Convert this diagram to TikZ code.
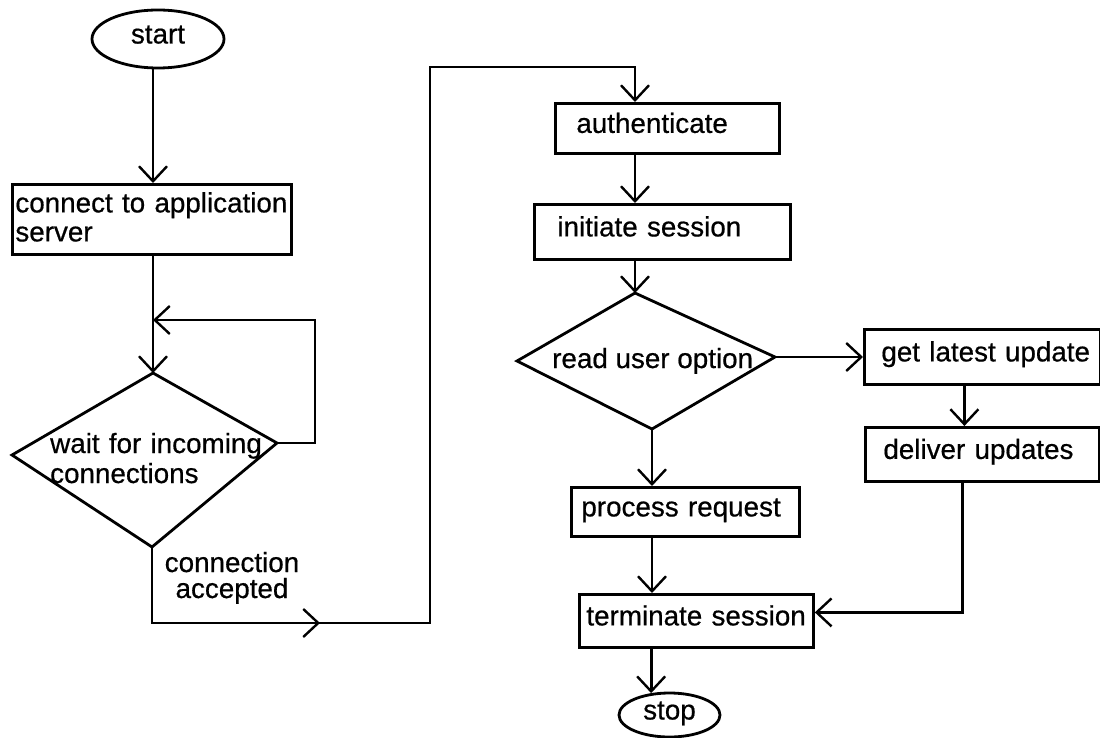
\documentclass[tikz,border=0pt]{standalone}
\usepackage{fontspec}
\setmainfont{Liberation Sans}[FakeBold=0.6]
\usetikzlibrary{arrows.meta,shapes.geometric,calc}
\newcommand\dtxt{\fontsize{27.8pt}{29pt}\selectfont}
\begin{document}
\begin{tikzpicture}[x=1pt,y=-1pt,
  ln/.style={line width=2.8pt},
  arr/.style={ln,-{Straight Barb[length=15pt,width=28pt,line width=2.4pt]}},
  box/.style={draw,ln,rectangle,anchor=north west,align=left,font=\dtxt,inner ysep=0pt,text height=20pt,text depth=11pt},
  oval/.style={draw,ln,ellipse,inner sep=0pt,font=\dtxt,text height=20pt,text depth=11pt},
  lbl/.style={font=\dtxt,inner sep=0pt,anchor=base west}]
\useasboundingbox (0,0) rectangle (1100,738);

% nodes
\node[oval,minimum width=132pt,minimum height=58pt] (start) at (158,39) {start};
\node[box,minimum height=70pt,text width=273pt,inner xsep=3pt,text height=20pt,text depth=34pt] (con) at (11,183) {connect to application\\server};

\coordinate (d1t) at (153,373);
\coordinate (d1r) at (277,443);
\coordinate (d1b) at (152,547);
\coordinate (d1l) at (12,455);
\node[lbl,text width=230pt,align=left,font=\fontsize{27.8pt}{30pt}\selectfont] (wait) at (50,453) {wait for incoming\\connections};
\node[lbl,anchor=base,text width=150pt,align=center,font=\fontsize{27.8pt}{26pt}\selectfont] (acc) at (232,572) {connection\\accepted};

\coordinate (br) at (430,623);
\coordinate (mid) at (320,623);
\coordinate (tr) at (635,67);
\coordinate (loop) at (315,320);

\node[box,minimum height=50pt,text width=182pt,inner xsep=21pt] (auth) at (554,102) {authenticate};
\node[box,minimum height=55pt,text width=210pt,inner xsep=23pt] (init) at (533,203) {initiate session};

\coordinate (d2t) at (635,293);
\coordinate (d2l) at (517,361);
\coordinate (d2r) at (775,357);
\coordinate (d2b) at (652,429);
\node[lbl] (read) at (552,368) {read user option};

\node[box,minimum height=55pt,text width=202pt,inner xsep=17pt] (glu) at (863,328) {\mbox{get latest update}};
\node[box,minimum height=54pt,text width=198pt,inner xsep=18pt] (del) at (864,426) {deliver updates};
\node[box,minimum height=49pt,text width=208pt,inner xsep=10pt] (proc) at (570,486) {process request};
\node[box,minimum height=53pt,text width=220pt,inner xsep=7pt] (term) at (578,593) {terminate session};
\node[oval,minimum width=101pt,minimum height=44pt] (stop) at (669.5,715) {stop};

% diamonds
\draw[ln] (d1t) -- (d1r) -- (d1b) -- (d1l) -- cycle;
\draw[ln] (d2t) -- (d2r) -- (d2b) -- (d2l) -- cycle;

% connectors
\draw[arr] ([xshift=-5pt]start.south) -- ([xshift=-5pt]start.south |- con.north);
\draw[arr] (con.south -| d1t) -- (d1t);
\draw[arr] (d1r) -| (loop) -- (loop -| d1t);
\draw[arr] (d1b) |- (br) |- (tr) -- (tr |- auth.north);
\draw[arr] (d1b |- br) -- (mid);
\draw[arr] (auth.south -| tr) -- (init.north -| tr);
\draw[arr] (init.south -| d2t) -- (d2t);
\draw[arr] (d2r) -- (d2r -| glu.west);
\draw[arr] ([xshift=-18pt]glu.south) -- ([xshift=-18pt]glu.south |- del.north);
\draw[arr] (d2b) -- (d2b |- proc.north);
\draw[arr] (proc.south -| d2b) -- (term.north -| d2b);
\draw[arr] ([xshift=-20pt]del.south) |- ([yshift=8.5pt]term.east);
\draw[arr] (term.south -| stop.130) -- (stop.130);
\end{tikzpicture}
\end{document}
